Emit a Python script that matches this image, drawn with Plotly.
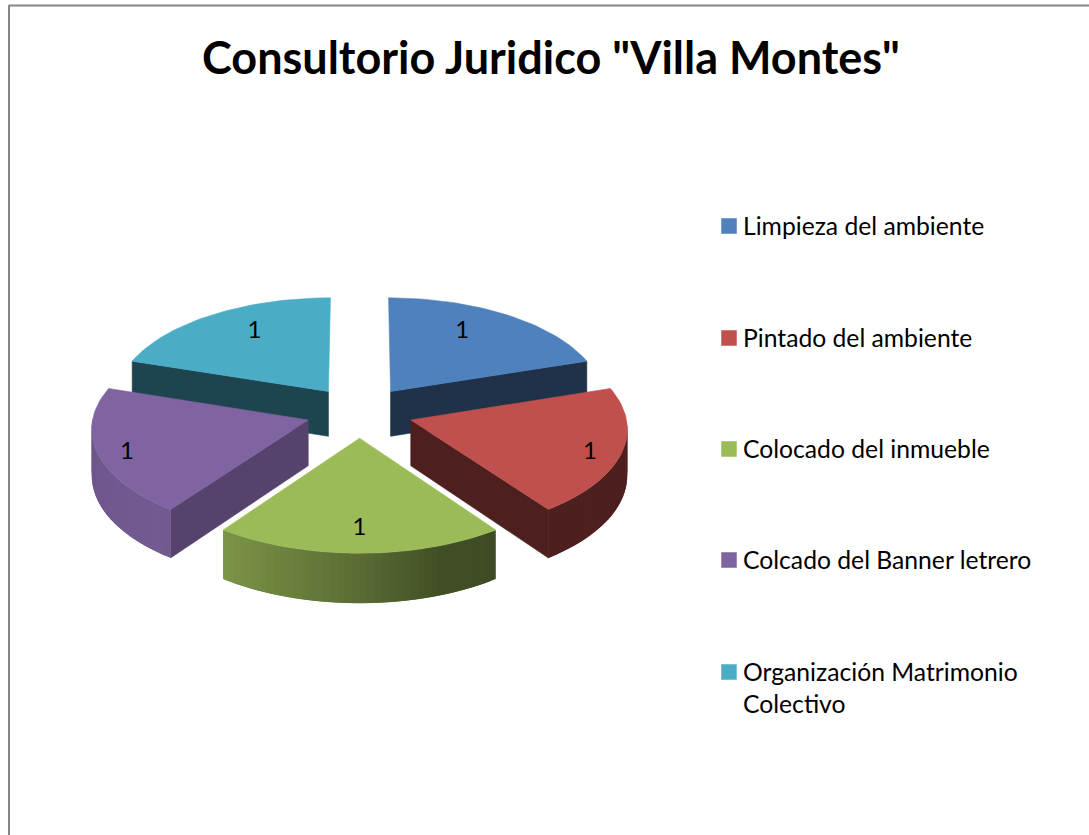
import numpy as np
import plotly.graph_objects as go

TITLE = 'Consultorio Juridico "Villa Montes"'
categories = ["Limpieza del ambiente", "Pintado del ambiente", "Colocado del inmueble",
              "Colcado del Banner letrero", "Organización Matrimonio<br>Colectivo"]
values = [1, 1, 1, 1, 1]
colors = ["#4F81BD", "#C0504D", "#9BBB59", "#8064A2", "#4BACC6"]
radial_shade = [0.39, 0.40, 0.55, 0.67, 0.40]
label_radius = [0.72, 0.865, 0.80, 0.875, 0.72]
label_turn = [-6, 3, 0, -3, 5]
legend_y = [225, 337, 448, 559, 671]
draw_order = [4, 0, 3, 1, 2]

W, H = 1089, 835
CX, CY, A, B, K, DEPTH, EXPLODE = 359.5, 412.0, 214.5, 103.0, 0.0707, 45.5, 0.25


def project(x, y, z=0.0):
    x, y = np.asarray(x, float), np.asarray(y, float)
    w = 1 + K * y
    return CX + A * x / w, CY - B * y / w + DEPTH * z / w


def shade(color, f):
    r, g, b = (int(color[i:i + 2], 16) for i in (1, 3, 5))
    return f"rgb({r * f:.0f},{g * f:.0f},{b * f:.0f})"


def arc_shade(theta):
    return float(np.interp(theta, [90, 144, 160, 180, 200, 216, 217, 250, 270],
                           [0.40, 0.40, 0.42, 0.58, 0.70, 0.80, 0.90, 0.87, 0.84]))


def poly(xs, ys, fill, edge=0.6):
    return go.Scatter(x=list(xs) + [xs[0]], y=list(ys) + [ys[0]], mode="lines", fill="toself",
                      fillcolor=fill, line=dict(color=fill, width=edge),
                      hoverinfo="skip", showlegend=False)


def wall(xa, ya, xb, yb):
    a = project(xa, ya, 0)
    b = project(xb, yb, 0)
    c = project(xb, yb, 1)
    d = project(xa, ya, 1)
    return ([float(a[0]), float(b[0]), float(c[0]), float(d[0])],
            [float(a[1]), float(b[1]), float(c[1]), float(d[1])])


edges = np.concatenate([[0], np.cumsum(values)]) / sum(values) * 360
fig = go.Figure()

for i in draw_order:
    t0, t1 = edges[i], edges[i + 1]
    mid = np.radians((t0 + t1) / 2)
    ox, oy = EXPLODE * np.sin(mid), EXPLODE * np.cos(mid)
    th = np.linspace(t0, t1, 41)
    px = ox + np.sin(np.radians(th))
    py = oy + np.cos(np.radians(th))

    # straight cut faces that look towards the viewer
    for k, normal in ((0, t0 - 90), (-1, t1 + 90)):
        if np.cos(np.radians(normal)) < -1e-6:
            sx, sy = wall(ox, oy, px[k], py[k])
            fig.add_trace(poly(sx, sy, shade(colors[i], radial_shade[i])))

    # curved rim, front part only; each strip overlaps the next so no seams show
    n = len(th) - 1
    for j in range(n):
        tm = (th[j] + th[j + 1]) / 2
        if 90 < tm < 270:
            e = min(j + 2, n)
            sx, sy = wall(px[j], py[j], px[e], py[e])
            fig.add_trace(poly(sx, sy, shade(colors[i], arc_shade(tm)), edge=0))

    # top face
    tx, ty = project(np.concatenate([[ox], px]), np.concatenate([[oy], py]), 0)
    fig.add_trace(poly(tx.tolist(), ty.tolist(), colors[i]))

# data labels
lx, ly = [], []
for i, r in enumerate(label_radius):
    mid = np.radians((edges[i] + edges[i + 1]) / 2)
    ang = mid + np.radians(label_turn[i])
    a, b = project(EXPLODE * np.sin(mid) + r * np.sin(ang), EXPLODE * np.cos(mid) + r * np.cos(ang), 0)
    lx.append(float(a))
    ly.append(float(b))
fig.add_trace(go.Scatter(x=lx, y=ly, mode="text", text=[str(v) for v in values],
                         textposition="middle center",
                         textfont=dict(family="Lato", size=24, color="#000000"),
                         hoverinfo="skip", showlegend=False))

# legend keys
fig.add_trace(go.Scatter(x=[729] * 5, y=[v + 1 for v in legend_y], mode="markers",
                         marker=dict(symbol="square", size=15.5, color=colors, line=dict(width=0)),
                         hoverinfo="skip", showlegend=False))
annotations = [dict(x=741, y=ly_, xref="x", yref="y", text=name.split("<br>")[0],
                    xanchor="left", yanchor="middle", align="left", showarrow=False,
                    font=dict(family="Lato", size=24.7, color="#000000"))
               for name, ly_ in zip(categories, legend_y)]
annotations.append(dict(x=741, y=legend_y[-1] + 32, xref="x", yref="y", text=categories[-1].split("<br>")[1],
                        xanchor="left", yanchor="middle", align="left", showarrow=False,
                        font=dict(family="Lato", size=24.7, color="#000000")))
annotations.append(dict(x=551, y=57, xref="x", yref="y", text=f"<b>{TITLE}</b>", xanchor="center",
                        yanchor="middle", showarrow=False,
                        font=dict(family="Lato", size=45, color="#000000")))

frame = dict(color="#868686", width=2)
fig.update_layout(
    width=W, height=H, margin=dict(l=0, r=0, t=0, b=0), autosize=False,
    paper_bgcolor="#FFFFFF", plot_bgcolor="#FFFFFF", showlegend=False,
    xaxis=dict(range=[0, W], visible=False, fixedrange=True),
    yaxis=dict(range=[H, 0], visible=False, fixedrange=True),
    annotations=annotations,
    shapes=[dict(type="line", x0=9, x1=9, y0=5, y1=H, line=frame, layer="below"),
            dict(type="line", x0=9, x1=W, y0=5.5, y1=5.5, line=frame, layer="below")],
)
fig.write_html("out.html", config=dict(displayModeBar=False),
               post_script="document.body.style.margin='0';document.documentElement.style.overflow='hidden';")
